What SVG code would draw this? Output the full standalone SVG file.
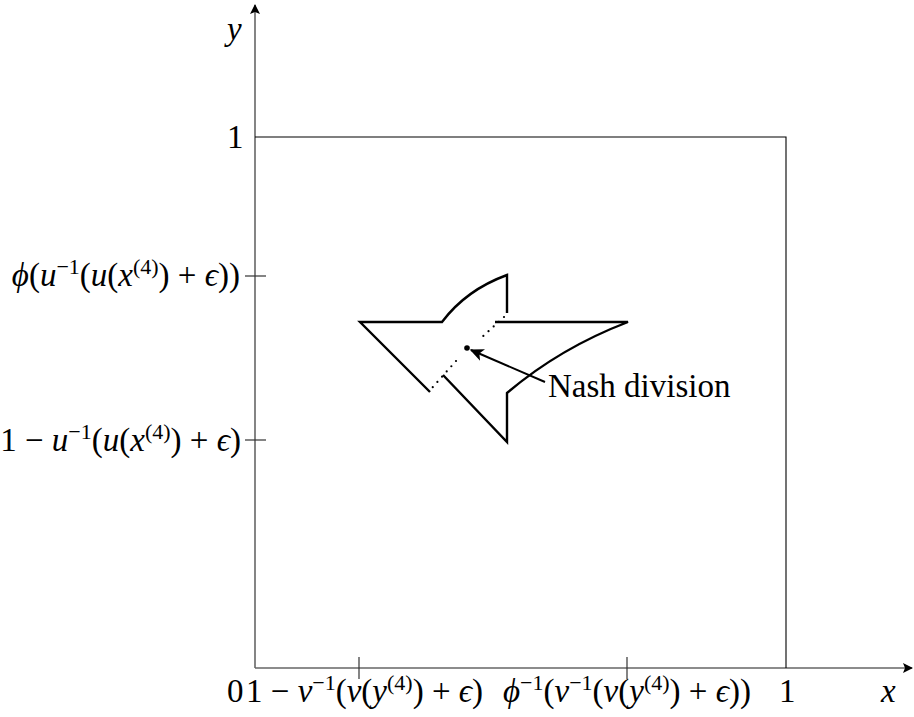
<svg xmlns="http://www.w3.org/2000/svg" width="914" height="717" viewBox="0 0 914 717">
<style>
.it{font-style:italic}
.sup{font-size:22px}
.axis{stroke:#666;stroke-width:1.6;fill:none}
.box{stroke:#000;stroke-width:1.1;fill:none}
.tick{stroke:#333;stroke-width:1.2}
.shape{stroke:#000;stroke-width:2.4;fill:none;stroke-linejoin:miter}
.dots{stroke:#000;stroke-width:2.2;stroke-dasharray:0 7;stroke-linecap:round;fill:none}
</style>
<defs>
<marker id="ah" viewBox="0 0 10 10" refX="9" refY="5" markerWidth="10" markerHeight="10" markerUnits="userSpaceOnUse" orient="auto">
<path d="M0,0 L10,5 L0,10 L2,5 Z" fill="#000"/>
</marker>
<marker id="ah2" viewBox="0 0 10 10" refX="9" refY="5" markerWidth="14" markerHeight="14" markerUnits="userSpaceOnUse" orient="auto">
<path d="M0,0.5 L10,5 L0,9.5 L2.5,5 Z" fill="#000"/>
</marker>
</defs>
<g id="axes">
<line class="axis" x1="255" y1="668" x2="255" y2="5" marker-end="url(#ah)"/>
<line class="axis" x1="255" y1="668" x2="912" y2="668" marker-end="url(#ah)"/>
<polyline class="box" points="255,137 786,137 786,668"/>
<line class="tick" x1="245" y1="276" x2="266" y2="276"/>
<line class="tick" x1="245" y1="440" x2="266" y2="440"/>
<line class="tick" x1="359" y1="657" x2="359" y2="679"/>
<line class="tick" x1="627" y1="657" x2="627" y2="679"/>
</g>
<g id="labels">
<text class="it" x="227" y="40" font-family="Liberation Serif" font-size="33">y</text>
<text x="227" y="148" font-family="Liberation Serif" font-size="33">1</text>
<text x="227" y="702" font-family="Liberation Serif" font-size="33">0</text>
<text x="779" y="702" font-family="Liberation Serif" font-size="33">1</text>
<text class="it" x="881" y="702" font-family="Liberation Serif" font-size="33">x</text>
<text x="240" y="286" text-anchor="end" font-family="Liberation Serif" font-size="33"><tspan class="it">&#x3D5;</tspan>(<tspan class="it">u</tspan><tspan class="sup" dy="-12">&#x2212;1</tspan><tspan dy="12">(</tspan><tspan class="it">u</tspan>(<tspan class="it">x</tspan><tspan class="sup" dy="-12">(4)</tspan><tspan dy="12">) + </tspan><tspan class="it">&#x3F5;</tspan>))</text>
<text x="241" y="451" text-anchor="end" font-family="Liberation Serif" font-size="33">1 &#x2212; <tspan class="it">u</tspan><tspan class="sup" dy="-12">&#x2212;1</tspan><tspan dy="12">(</tspan><tspan class="it">u</tspan>(<tspan class="it">x</tspan><tspan class="sup" dy="-12">(4)</tspan><tspan dy="12">) + </tspan><tspan class="it">&#x3F5;</tspan>)</text>
<text x="246" y="702" font-family="Liberation Serif" font-size="33">1 &#x2212; <tspan class="it">v</tspan><tspan class="sup" dy="-12">&#x2212;1</tspan><tspan dy="12">(</tspan><tspan class="it">v</tspan>(<tspan class="it">y</tspan><tspan class="sup" dy="-12">(4)</tspan><tspan dy="12">) + </tspan><tspan class="it">&#x3F5;</tspan>)</text>
<text x="503" y="702" font-family="Liberation Serif" font-size="33"><tspan class="it">&#x3D5;</tspan><tspan class="sup" dy="-12">&#x2212;1</tspan><tspan dy="12">(</tspan><tspan class="it">v</tspan><tspan class="sup" dy="-12">&#x2212;1</tspan><tspan dy="12">(</tspan><tspan class="it">v</tspan>(<tspan class="it">y</tspan><tspan class="sup" dy="-12">(4)</tspan><tspan dy="12">) + </tspan><tspan class="it">&#x3F5;</tspan>))</text>
</g>
<g id="region">
<path class="shape" d="M430,392 L360,322 L442,322 Q466,290 507,275 L507,313"/>
<path class="shape" d="M495,322 L628,322 Q560,348 507,393 L507,442 L443,375"/>
<path class="dots" d="M504,317 L480,339"/>
<path class="dots" d="M456,361 L432,388"/>
</g>
<g id="nash">
<circle cx="467" cy="348" r="2.8" fill="#000"/>
<text x="548" y="397" font-family="Liberation Serif" font-size="33">Nash division</text>
</g>
<g id="connectors">
<line x1="545" y1="382" x2="471" y2="350" stroke="#000" stroke-width="2" marker-end="url(#ah2)"/>
</g>
</svg>
